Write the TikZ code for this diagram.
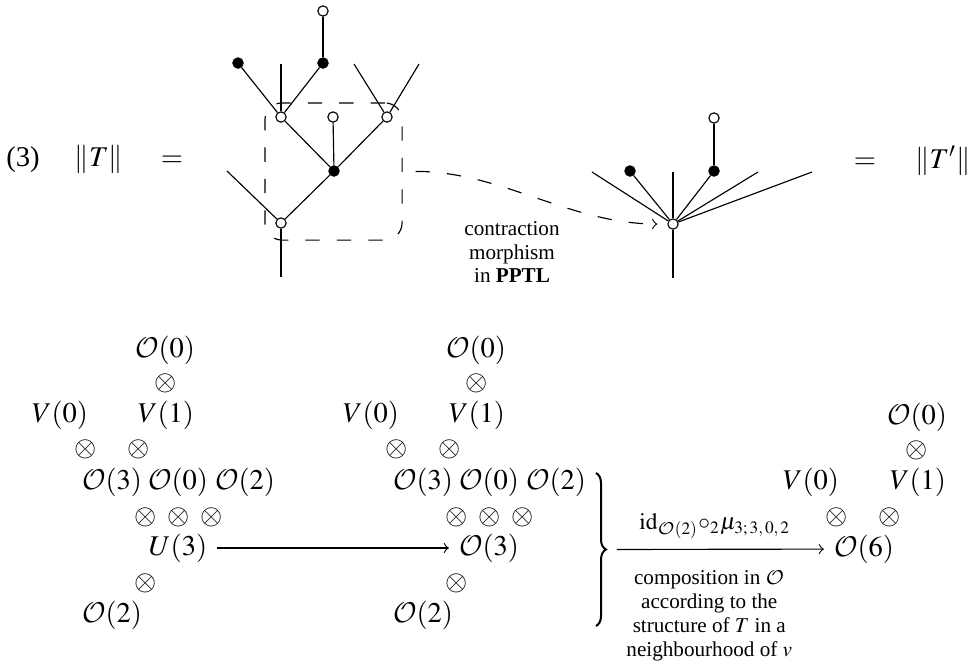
\documentclass[tikz,border=0pt]{standalone}
\usepackage{mathptmx}
\usepackage{amsmath}
\usepackage{fontspec}
\setmainfont{Liberation Serif}
\DeclareMathAlphabet{\mathcal}{OMS}{cmsy}{m}{n}
\usetikzlibrary{decorations.pathreplacing}

\begin{document}
\begin{tikzpicture}[x=0.35pt,y=-0.35pt,
  wv/.style={circle,draw,fill=white,inner sep=0pt,minimum size=3.6pt},
  bv/.style={circle,draw,fill=black,inner sep=0pt,minimum size=3.6pt},
  dsh/.style={dash pattern=on 5pt off 6pt},
  lbl/.style={font=\fontsize{7.4}{8.1}\selectfont,align=center}]
\useasboundingbox (0,0) rectangle (974,663);

\node[anchor=base] (eqno) at (23,166) {(3)};
\node[anchor=base] (T) at (99,166) {$\|T\|$};
\node[anchor=base] (eq1) at (172,166) {$=$};
\node[anchor=base] (eq2) at (865,168) {$=$};
\node[anchor=base] (T2) at (943,168) {$\|T'\|$};

\node[wv] (r) at (281,223) {};
\node[bv] (c) at (334,171) {};
\node[wv] (a) at (281,117) {};
\node[wv] (m) at (333,117) {};
\node[wv] (b) at (387,117) {};
\node[bv] (a1) at (238,63) {};
\node[bv] (a2) at (323,63) {};
\node[wv] (a3) at (323,11) {};
\coordinate (r0) at (281,277);
\coordinate (r1) at (227,171);
\coordinate (a0) at (281,64);
\coordinate (b1) at (354,64);
\coordinate (b2) at (419,64);

\draw (r0) -- (r);
\draw (r1) -- (r);
\draw (r) -- (c);
\draw (c) -- (a);
\draw (c) -- (m);
\draw (c) -- (b);
\draw (a) -- (a1);
\draw (a) -- (a0);
\draw (a) -- (a2);
\draw (a2) -- (a3);
\draw (b) -- (b1);
\draw (b) -- (b2);

\node[draw,dsh,rounded corners=6pt,minimum width=48pt,minimum height=48pt] (box) at (333.5,171.5) {};

\node[wv] (s) at (673,224) {};
\node[bv] (s1) at (630,171) {};
\node[bv] (s2) at (714,171) {};
\node[wv] (s3) at (714,118) {};
\coordinate (s0) at (673,278);
\coordinate (sl) at (592,172);
\coordinate (su) at (673,172);
\coordinate (sr1) at (758,172);
\coordinate (sr2) at (812,172);

\draw (s0) -- (s);
\draw (sl) -- (s);
\draw (s1) -- (s);
\draw (su) -- (s);
\draw (s2) -- (s);
\draw (sr1) -- (s);
\draw (sr2) -- (s);
\draw (s2) -- (s3);

\draw[dsh,->,shorten <=4.5pt,shorten >=3.5pt] (box.east) .. controls (500,171) and (570,224) .. (s);
\node[lbl] (con) at (512,252) {contraction\\morphism\\in \textbf{PPTL}};

\node (o0) at (165,350) {$\mathcal{O}(0)$};
\node (t1) at (166,383) {$\otimes$};
\node (v0) at (60,415) {$V(0)$};
\node (v1) at (166,415) {$V(1)$};
\node (t2) at (86,449) {$\otimes$};
\node (t3) at (139,449) {$\otimes$};
\node (o3) at (112,482) {$\mathcal{O}(3)$};
\node (o0b) at (178,482) {$\mathcal{O}(0)$};
\node (o2) at (245,482) {$\mathcal{O}(2)$};
\node (t4) at (146,517) {$\otimes$};
\node (t5) at (179,517) {$\otimes$};
\node (t6) at (212,517) {$\otimes$};
\node (u3) at (178,548) {$U(3)$};
\node (t7) at (146,583) {$\otimes$};
\node (o2b) at (112,615) {$\mathcal{O}(2)$};

\node (p0) at (476,350) {$\mathcal{O}(0)$};
\node (q1) at (477,383) {$\otimes$};
\node (w0) at (371,415) {$V(0)$};
\node (w1) at (477,415) {$V(1)$};
\node (q2) at (397,449) {$\otimes$};
\node (q3) at (450,449) {$\otimes$};
\node (p3) at (423,482) {$\mathcal{O}(3)$};
\node (p0b) at (489,482) {$\mathcal{O}(0)$};
\node (p2) at (556,482) {$\mathcal{O}(2)$};
\node (q4) at (457,517) {$\otimes$};
\node (q5) at (490,517) {$\otimes$};
\node (q6) at (523,517) {$\otimes$};
\node (p3c) at (489,548) {$\mathcal{O}(3)$};
\node (q7) at (457,583) {$\otimes$};
\node (p2b) at (423,615) {$\mathcal{O}(2)$};

\coordinate (brtop) at (596,473);
\coordinate (brbot) at (596,626);
\coordinate (brtip) at (606,549.5);
\draw[line width=0.7pt,decorate,decoration={brace,amplitude=3.5pt}] (brtop) -- (brbot);

\node (o6) at (864,549) {$\mathcal{O}(6)$};
\node (x1) at (837,517) {$\otimes$};
\node (x2) at (890,517) {$\otimes$};
\node (y0) at (811,482) {$V(0)$};
\node (y1) at (918,482) {$V(1)$};
\node (x3) at (917,450) {$\otimes$};
\node (z0) at (917,417) {$\mathcal{O}(0)$};

\draw[->] (u3) -- (p3c);
\draw[->,shorten <=3.8pt] (brtip) -- node[above,lbl,font=\fontsize{8.2}{9}\selectfont] {$\mathrm{id}_{\mathcal{O}(2)}\mathord{\circ}_2\mu_{3;\,3,\,0,\,2}$}
  node[below,lbl,font=\fontsize{7.4}{8.4}\selectfont,yshift=-4pt,xshift=-2pt] {composition in $\mathcal{O}$\\according to the\\structure of $T$ in a\\neighbourhood of $v$} (o6);
\end{tikzpicture}
\end{document}
